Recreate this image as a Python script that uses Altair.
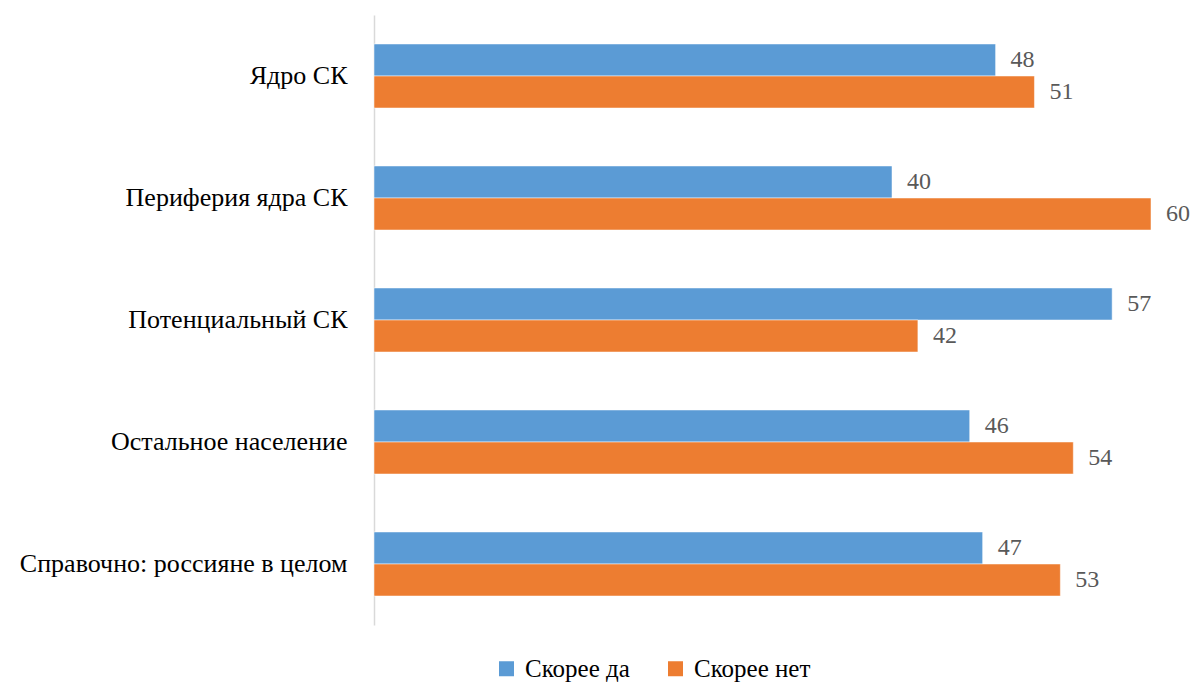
import altair as alt
import pandas as pd

categories = ["Ядро СК", "Периферия ядра СК", "Потенциальный СК",
              "Остальное население", "Справочно: россияне в целом"]
series = ["Скорее да", "Скорее нет"]
yes_vals = [48, 40, 57, 46, 47]
no_vals = [51, 60, 42, 54, 53]

rows = []
for c, y, n in zip(categories, yes_vals, no_vals):
    rows.append({"cat": c, "series": series[0], "value": y})
    rows.append({"cat": c, "series": series[1], "value": n})
df = pd.DataFrame(rows)

FONT = "Liberation Serif"

y_enc = alt.Y("cat:N", sort=categories,
              scale=alt.Scale(paddingInner=0.475, paddingOuter=0.2375),
              axis=alt.Axis(title=None, ticks=False, labelFontSize=26, labelFont=FONT,
                            labelColor="#000000", labelPadding=27, domainColor="#d9d9d9",
                            domainWidth=1.5, labelLimit=500))
x_enc = alt.X("value:Q", scale=alt.Scale(domain=[0, 60], nice=False), axis=None)
off = alt.YOffset("series:N", sort=series)

bars = alt.Chart(df).mark_bar(stroke="white", strokeWidth=0.5).encode(
    y=y_enc, x=x_enc, yOffset=off,
    color=alt.Color("series:N", sort=series,
                    scale=alt.Scale(domain=series, range=["#5B9BD5", "#ED7D31"]),
                    legend=alt.Legend(title=None, orient="none", direction="horizontal",
                                      legendX=120, legendY=641, symbolType="square",
                                      symbolSize=225, symbolStrokeWidth=0,
                                      labelFont=FONT, labelFontSize=25, labelColor="#000000",
                                      columnPadding=33, labelOffset=6))
)

text = alt.Chart(df).mark_text(align="left", dx=15, font=FONT, fontSize=24,
                               color="#595959", baseline="middle").encode(
    y=y_enc, x=x_enc, yOffset=off, text="value:Q"
)

chart = (bars + text).properties(
    width=777, height=610,
    padding={"left": 366, "top": 7, "right": 40, "bottom": 60},
    autosize=alt.AutoSizeParams(type="none"),
).configure_view(stroke=None)

chart.save("out.html", embed_options={"renderer": "svg", "actions": False})
